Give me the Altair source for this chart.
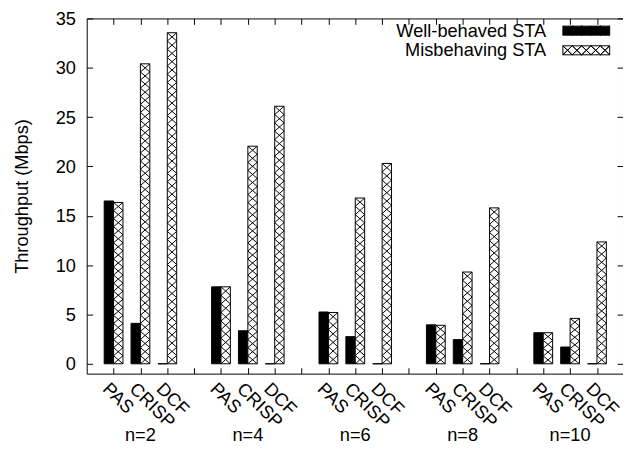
import altair as alt
import pandas as pd

FONT = "Liberation Sans"
FS = 18.5

groups = ["n=2", "n=4", "n=6", "n=8", "n=10"]
methods = ["PAS", "CRISP", "DCF"]
series = ["Well-behaved STA", "Misbehaving STA"]
well_behaved = [
    [16.5, 4.1, 0.0],
    [7.8, 3.35, 0.0],
    [5.25, 2.75, 0.0],
    [3.95, 2.45, 0.0],
    [3.15, 1.7, 0.0],
]
misbehaving = [
    [16.35, 30.4, 33.55],
    [7.8, 22.05, 26.1],
    [5.2, 16.8, 20.3],
    [3.9, 9.3, 15.8],
    [3.15, 4.6, 12.35],
]
y_ticks = [0, 5, 10, 15, 20, 25, 30, 35]

rows = []
for gi, g in enumerate(groups):
    for mi, m in enumerate(methods):
        rows.append(dict(group=g, gi=gi, method=m, mi=mi, series=series[0], value=well_behaved[gi][mi]))
        rows.append(dict(group=g, gi=gi, method=m, mi=mi, series=series[1], value=misbehaving[gi][mi]))
df = pd.DataFrame(rows)
gdf = pd.DataFrame({"group": groups, "gi": list(range(len(groups)))})

STEP = len(methods) + 1          # slots per group (3 methods + gap)
NSLOTS = STEP * len(groups) - 1  # slots used
BAR_W = 0.35
PITCH = 0.83

xscale = alt.Scale(domain=[-1, 18.97], nice=False, zero=False)
yscale = alt.Scale(domain=[-1, 35], nice=False, zero=False)

label_list = "[" + ",".join("'%s'" % m for m in methods) + ",'']"

x_axis = alt.Axis(
    orient="bottom", values=list(range(NSLOTS)), labelExpr=f"{label_list}[datum.value % {STEP}]",
    labelAngle=45, labelAlign="left", labelBaseline="alphabetic", labelOffset=-12.5,
    labelPadding=16, labelOverlap=False, labelFlush=False, tickSize=6, offset=-6,
    domain=False, grid=False, title=None, labelFontSize=FS, labelFont=FONT,
    labelColor="black", tickColor="black",
)
y_axis = alt.Axis(
    orient="left", values=y_ticks, tickSize=6, offset=-6, domain=False, grid=False,
    labelPadding=11.5, labelFontSize=FS, labelFont=FONT, labelColor="black", tickColor="black",
    title="Throughput (Mbps)", titleFont=FONT, titleFontSize=FS, titleFontWeight="normal",
    titleColor="black", titleX=-72, titleY=180.5, titleAngle=270, titleAlign="center",
    titleBaseline="middle",
)

# legend swatch path: rectangle + crosshatch, drawn to the right of the label
U = 0.477
W = 2.477
S = 5.33
NX = 5
xs = [S - W + i * 2 * W / NX for i in range(NX + 1)]
p1 = [(x, -U if i % 2 == 0 else U) for i, x in enumerate(xs)]
p2 = [(x, U if i % 2 == 0 else -U) for i, x in enumerate(xs)]


def retrace(pts):
    seq = pts + pts[-2::-1]
    return "M" + "L".join(f"{x:.4f},{y:.4f}" for x, y in seq) + "Z"


sym = f"M{S - W:.4f},{-U}H{S + W:.4f}V{U}H{S - W:.4f}Z " + retrace(p1) + " " + retrace(p2)

legend = alt.Legend(
    title=None, orient="none", legendX=446, legendY=1.9, symbolType=sym, symbolSize=369,
    symbolStrokeWidth=1, labelAlign="right", labelOffset=0, labelFontSize=FS,
    labelFont=FONT, labelColor="black", rowPadding=0, padding=0,
)

base = alt.Chart(df).transform_calculate(
    slot=f"datum.gi * {STEP} + datum.mi"
)

bars = base.transform_calculate(
    xl=f"datum.series == '{series[0]}' ? datum.slot - {BAR_W} : datum.slot",
    xr=f"datum.series == '{series[0]}' ? datum.slot : datum.slot + {BAR_W}",
).mark_bar(strokeWidth=1).encode(
    x=alt.X("xl:Q", scale=xscale, axis=x_axis),
    x2="xr:Q",
    y=alt.Y("value:Q", scale=yscale, axis=y_axis),
    y2=alt.datum(0),
    color=alt.Color("series:N", scale=alt.Scale(domain=series, range=["black", "white"]), legend=legend),
    stroke=alt.Stroke("series:N", scale=alt.Scale(domain=series, range=["black", "black"]), legend=legend),
)

hatch = base.transform_filter(f"datum.series == '{series[1]}'").transform_calculate(
    nrows=f"max(1, round(datum.value / {PITCH}))",
    pitch="datum.value / datum.nrows",
    row="sequence(0, datum.nrows)",
).transform_flatten(["row"]).transform_calculate(
    ya="datum.row * datum.pitch",
    yb="(datum.row + 1) * datum.pitch",
    xa="datum.slot",
    xb=f"datum.slot + {BAR_W}",
)
rule1 = hatch.mark_rule(color="black", strokeWidth=1).encode(
    x=alt.X("xa:Q", scale=xscale, axis=None), x2="xb:Q",
    y=alt.Y("ya:Q", scale=yscale, axis=None), y2="yb:Q",
)
rule2 = hatch.mark_rule(color="black", strokeWidth=1).encode(
    x=alt.X("xa:Q", scale=xscale, axis=None), x2="xb:Q",
    y=alt.Y("yb:Q", scale=yscale, axis=None), y2="ya:Q",
)

glabels = alt.Chart(gdf).transform_calculate(
    slot=f"datum.gi * {STEP} + 1"
).mark_text(fontSize=FS, font=FONT, baseline="alphabetic", align="center", color="black").encode(
    x=alt.X("slot:Q", scale=xscale, axis=None),
    y=alt.value(429),
    text="group:N",
)

mirror = base.mark_point(opacity=0).encode(
    x=alt.X("slot:Q", scale=xscale, axis=alt.Axis(
        orient="top", values=list(range(NSLOTS)), labels=False, tickSize=6, offset=-6,
        domain=False, grid=False, title=None, tickColor="black")),
    y=alt.Y("value:Q", scale=yscale, axis=alt.Axis(
        orient="right", values=y_ticks, labels=False, tickSize=6, offset=-6,
        domain=False, grid=False, title=None, tickColor="black")),
)

chart = alt.layer(bars, rule1, rule2, glabels, mirror).properties(
    width=545, height=361,
    padding={"left": 80, "top": 7, "right": 0, "bottom": 75},
    autosize=alt.AutoSizeParams(type="none"),
    background="white",
).configure_view(stroke="black", strokeWidth=1)

chart.save("out.html", embed_options={"renderer": "svg", "actions": False})
